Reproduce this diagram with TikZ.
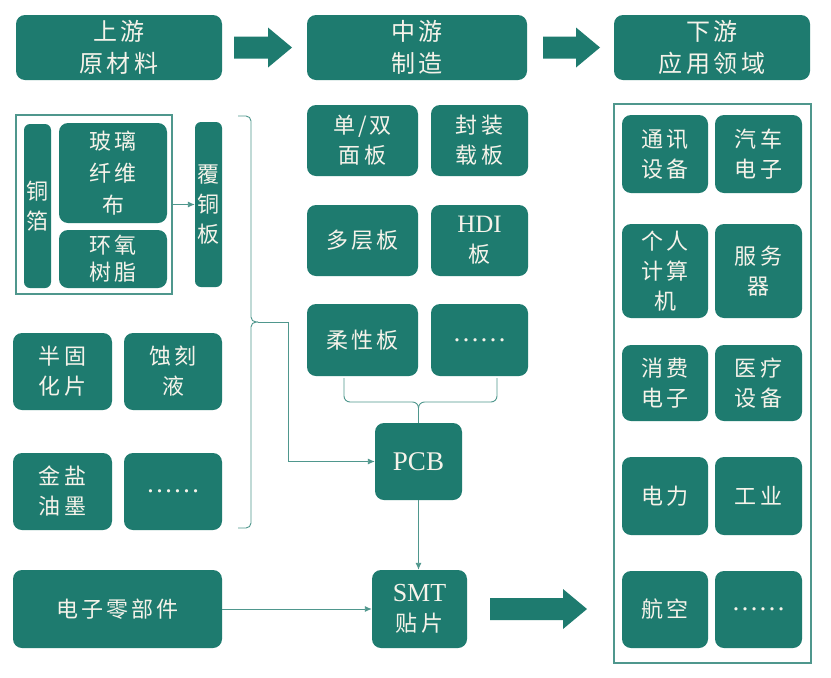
\documentclass[tikz,border=0pt]{standalone}
\usepackage{fontspec}
\setmainfont{Noto Sans CJK SC}[LetterSpace=14]
\newfontfamily\PcbLatin{Liberation Serif}
\usetikzlibrary{arrows.meta,positioning}
\definecolor{PcbTeal}{HTML}{1E7B6F}
\definecolor{PcbLine}{HTML}{4F978D}
\definecolor{PcbText}{HTML}{F6F3EA}
\newcommand{\PcbBigArrow}[3]{%
  \begin{scope}[shift={(#1,#2)}]
    \fill[PcbTeal] (0,-11) -- (#3-24,-11) -- (#3-24,-20) -- (#3,0)
      -- (#3-24,20) -- (#3-24,11) -- (0,11) -- cycle;
  \end{scope}}

\begin{document}
\begin{tikzpicture}[x=1pt,y=-1pt,
  pcbbox/.style={fill=PcbTeal,text=PcbText,rounded corners=9pt,align=center,
    inner sep=0pt,font=\fontsize{22}{30}\selectfont},
  pcbhead/.style={pcbbox,minimum height=65,font=\fontsize{24}{32}\selectfont},
  pcbword/.style={font=\fontsize{27}{30}\PcbLatin},
  pcbframe/.style={draw=PcbLine,line width=1.1pt,inner sep=0pt},
  pcblink/.style={draw=PcbLine,line width=0.9pt},
  pcbtip/.style={-{Latex[length=7pt,width=6pt]}}]
  \fill[white] (0,0) rectangle (831,678);
  \useasboundingbox (0,0) rectangle (831,678);
  % top row
  \node[pcbhead,minimum width=206] (up) at (119,47.5) {上游\\原材料};
  \node[pcbhead,minimum width=220] (mid) at (417,47.5) {中游\\制造};
  \node[pcbhead,minimum width=196] (down) at (712,47.5) {下游\\应用领域};
  \PcbBigArrow{234}{47.5}{58}
  \PcbBigArrow{543}{47.5}{57}
  % upstream materials
  \node[pcbframe,minimum width=156,minimum height=179] (cclin) at (94,204.5) {};
  \node[pcbbox,minimum width=27,minimum height=164,rounded corners=6pt] (foil) at (37.5,206) {铜\\箔};
  \node[pcbbox,minimum width=108,minimum height=100,font=\fontsize{22}{32}\selectfont] (glass) at (113,173) {玻璃\\纤维\\布};
  \node[pcbbox,minimum width=108,minimum height=58,font=\fontsize{22}{27}\selectfont] (epoxy) at (113,259) {环氧\\树脂};
  \node[pcbbox,minimum width=27,minimum height=165,rounded corners=6pt] (ccl) at (208.5,204.5) {覆\\铜\\板};
  \draw[pcblink,pcbtip] (cclin.east) -- (ccl.west);
  \node[pcbbox,minimum width=99,minimum height=77] (prepreg) at (62.5,371.5) {半固\\化片};
  \node[pcbbox,minimum width=98,minimum height=77] (etch) at (173,371.5) {蚀刻\\液};
  \node[pcbbox,minimum width=99,minimum height=77] (ink) at (62.5,491.5) {金盐\\油墨};
  \node[pcbbox,pcbword,minimum width=98,minimum height=77] (upmore) at (173,491.5) {……};
  \node[pcbbox,minimum width=209,minimum height=78] (parts) at (117.5,609) {电子零部件};
  % midstream boards
  \node[pcbbox,minimum width=111,minimum height=71] (sdboard) at (362.5,140.5) {单/双\\面板};
  \node[pcbbox,minimum width=97,minimum height=71] (substrate) at (479.5,140.5) {封装\\载板};
  \node[pcbbox,minimum width=111,minimum height=71] (mlboard) at (362.5,240.5) {多层板};
  \node[pcbbox,minimum width=97,minimum height=71] (hdi) at (479.5,240.5) {{\fontsize{25}{30}\PcbLatin HDI}\\板};
  \node[pcbbox,minimum width=111,minimum height=72] (flex) at (362.5,340) {柔性板};
  \node[pcbbox,pcbword,minimum width=97,minimum height=72] (midmore) at (479.5,340) {……};
  \node[pcbbox,pcbword,minimum width=87,minimum height=77] (pcb) at (418.5,461.5) {PCB};
  \node[pcbbox,minimum width=95,minimum height=78] (smt) at (419.5,609) {{\fontsize{26}{30}\PcbLatin SMT}\\贴片};
  % braces
  \coordinate (bracetip) at (258,322);
  \draw[pcblink,rounded corners=5pt] (238,116) -| (251,322) -- (bracetip);
  \draw[pcblink,rounded corners=5pt] (238,528) -| (251,322) -- (bracetip);
  \draw[pcblink,pcbtip] (bracetip) -- (288,322) |- (pcb.west);
  \coordinate (flexleg) at (344,378);
  \coordinate (moreleg) at (497,378);
  \draw[pcblink,rounded corners=6pt] (flexleg) |- (pcb.north |- 0,402) -- (pcb.north);
  \draw[pcblink,rounded corners=6pt] (moreleg) |- (pcb.north |- 0,402) -- (pcb.north);
  \draw[pcblink,pcbtip] (pcb.south) -- (pcb.south |- smt.north);
  \draw[pcblink,pcbtip] (parts.east) -- (smt.west);
  \PcbBigArrow{490}{609}{97}
  % downstream applications
  \node[pcbframe,minimum width=197,minimum height=559] (apps) at (712.5,383.5) {};
  \node[pcbbox,minimum width=86,minimum height=78] (comm) at (665,154) {通讯\\设备};
  \node[pcbbox,minimum width=87,minimum height=78] (auto) at (758.5,154) {汽车\\电子};
  \node[pcbbox,minimum width=86,minimum height=94] (pc) at (665,271) {个人\\计算\\机};
  \node[pcbbox,minimum width=87,minimum height=94] (server) at (758.5,271) {服务\\器};
  \node[pcbbox,minimum width=86,minimum height=76] (consumer) at (665,383) {消费\\电子};
  \node[pcbbox,minimum width=87,minimum height=76] (medical) at (758.5,383) {医疗\\设备};
  \node[pcbbox,minimum width=86,minimum height=78] (power) at (665,496) {电力};
  \node[pcbbox,minimum width=87,minimum height=78] (industry) at (758.5,496) {工业};
  \node[pcbbox,minimum width=86,minimum height=77] (aero) at (665,609.5) {航空};
  \node[pcbbox,pcbword,minimum width=87,minimum height=77] (appmore) at (758.5,609.5) {……};
\end{tikzpicture}
\end{document}
